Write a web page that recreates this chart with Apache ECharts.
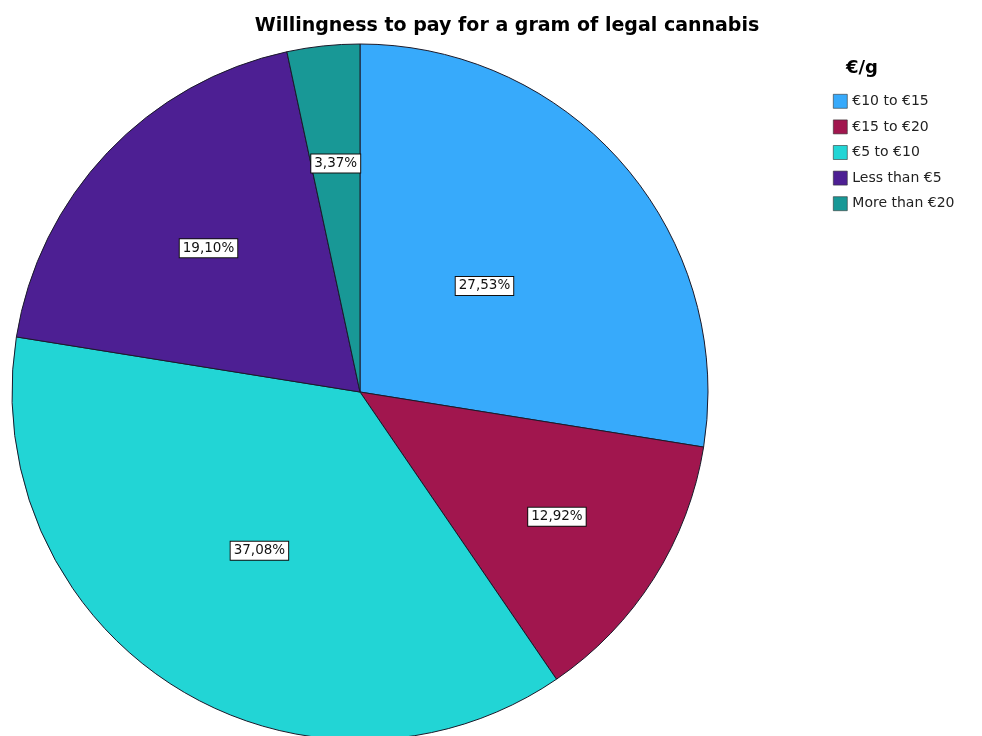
<!DOCTYPE html>
<html>
<head>
<meta charset="utf-8">
<script src="https://cdn.jsdelivr.net/npm/echarts@6/dist/echarts.min.js"></script>
<style>
  html, body { margin: 0; padding: 0; background: #ffffff; }
  #chart { width: 982px; height: 736px; }
</style>
</head>
<body>
<div id="chart"></div>
<script>
// Price bands (€ per gram) and the share of respondents in each, in percent
const categories = ['€10 to €15', '€15 to €20', '€5 to €10', 'Less than €5', 'More than €20'];
const shares = [27.53, 12.92, 37.08, 19.10, 3.37];

// Presentation settings
const sliceColors = ['#37aafb', '#a1164e', '#22d5d5', '#4d1f93', '#189896'];
const labelRadiusFrac = [0.47, 0.67, 0.54, 0.60, 0.66];
const CX = 360, CY = 392, R = 348;

const total = shares.reduce((a, b) => a + b, 0);
function midAngle(i) {
  let before = 0;
  for (let k = 0; k < i; k++) before += shares[k];
  return (before + shares[i] / 2) / total * 2 * Math.PI;
}
function fmt(v) { return v.toFixed(2).replace('.', ',') + '%'; }

const chart = echarts.init(document.getElementById('chart'), null, { renderer: 'canvas' });
chart.setOption({
  animation: false,
  backgroundColor: '#ffffff',
  title: [
    {
      text: 'Willingness to pay for a gram of legal cannabis',
      left: 507, top: 17, textAlign: 'center', padding: 0,
      textStyle: { fontFamily: 'DejaVu Sans, sans-serif', fontSize: 19, fontWeight: 'bold', color: '#000' }
    },
    {
      text: '€/g',
      left: 862, top: 59, textAlign: 'center', padding: 0,
      textStyle: { fontFamily: 'DejaVu Sans, sans-serif', fontSize: 18, fontWeight: 'bold', color: '#000' }
    }
  ],
  legend: {
    orient: 'vertical',
    left: 833, top: 94, padding: 0,
    itemWidth: 14, itemHeight: 14, itemGap: 11,
    icon: 'rect',
    data: categories,
    itemStyle: { borderColor: '#333', borderWidth: 0.6 },
    textStyle: { fontFamily: 'DejaVu Sans, sans-serif', fontSize: 14, lineHeight: 14, color: '#222', padding: [0, 0, 0, 0] }
  },
  series: [{
    type: 'pie',
    center: [CX, CY],
    radius: [0, R],
    startAngle: 90,
    clockwise: true,
    avoidLabelOverlap: false,
    data: categories.map((c, i) => ({ name: c, value: shares[i], itemStyle: { color: sliceColors[i] } })),
    itemStyle: { borderColor: '#1a1a2a', borderWidth: 1 },
    emphasis: { disabled: true },
    labelLine: { show: false },
    label: {
      show: true,
      position: 'inside',
      formatter: p => fmt(shares[p.dataIndex]),
      fontFamily: 'DejaVu Sans, sans-serif',
      fontSize: 13.5,
      lineHeight: 14,
      color: '#111',
      backgroundColor: '#ffffff',
      borderColor: '#111',
      borderWidth: 1,
      padding: [2, 3, 2, 3]
    },
    labelLayout: function (p) {
      const a = midAngle(p.dataIndex);
      const f = labelRadiusFrac[p.dataIndex];
      return {
        x: CX + f * R * Math.sin(a),
        y: CY - f * R * Math.cos(a),
        align: 'center',
        verticalAlign: 'middle'
      };
    }
  }]
});
</script>
</body>
</html>
